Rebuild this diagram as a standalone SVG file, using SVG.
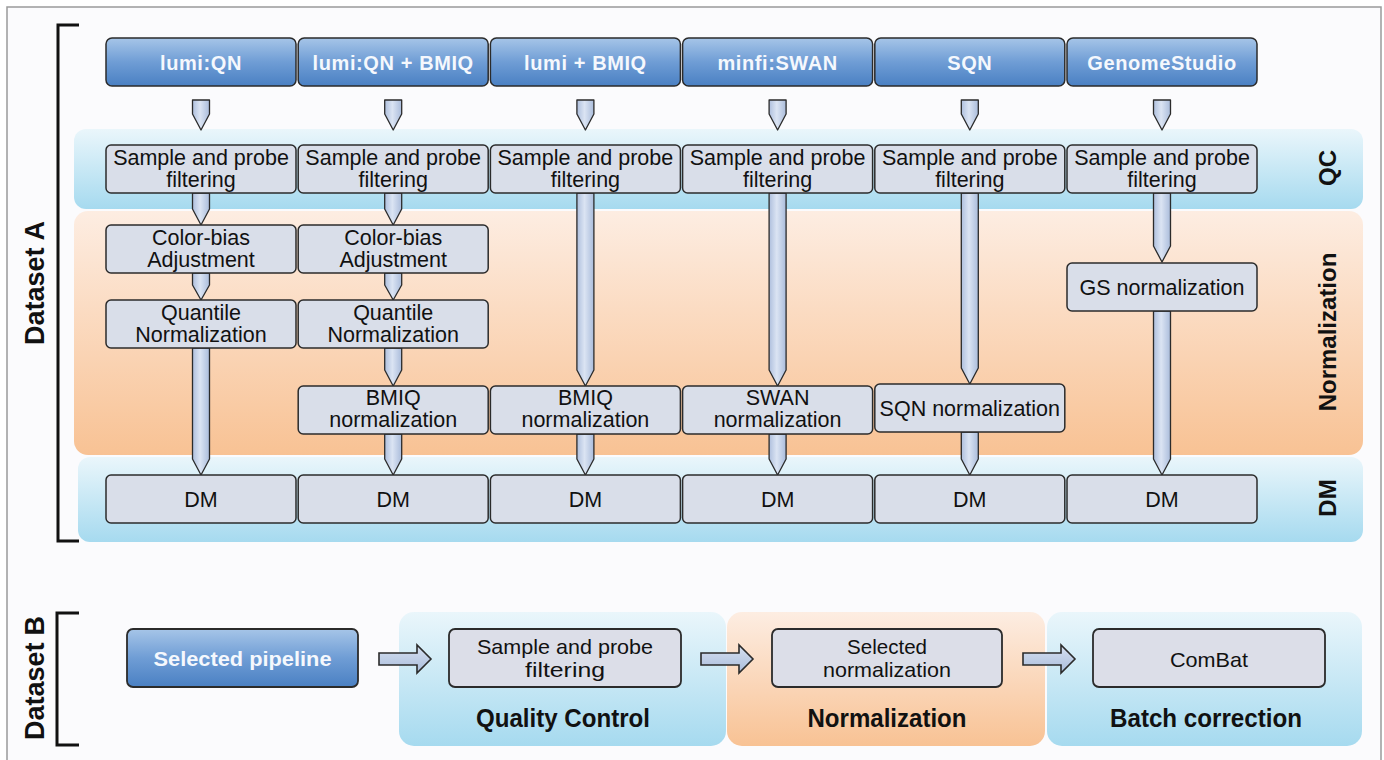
<svg xmlns="http://www.w3.org/2000/svg" width="1384" height="760" viewBox="0 0 1384 760">
  <defs>
    <linearGradient id="gBlue" x1="0" y1="0" x2="0" y2="1">
      <stop offset="0" stop-color="#a6c5e8"/>
      <stop offset="0.5" stop-color="#6f9dd5"/>
      <stop offset="1" stop-color="#4a80c3"/>
    </linearGradient>
    <linearGradient id="gCyan" x1="0" y1="0" x2="0" y2="1">
      <stop offset="0" stop-color="#eaf6fb"/>
      <stop offset="1" stop-color="#a6daef"/>
    </linearGradient>
    <linearGradient id="gPeach" x1="0" y1="0" x2="0" y2="1">
      <stop offset="0" stop-color="#fdede2"/>
      <stop offset="1" stop-color="#f8c294"/>
    </linearGradient>
    <linearGradient id="gShaft" x1="0" y1="0" x2="1" y2="0">
      <stop offset="0" stop-color="#aebfdd"/>
      <stop offset="0.45" stop-color="#dbe4f3"/>
      <stop offset="1" stop-color="#aabcdb"/>
    </linearGradient>
    <linearGradient id="gShaftH" x1="0" y1="0" x2="0" y2="1">
      <stop offset="0" stop-color="#d7e1f1"/>
      <stop offset="1" stop-color="#a9bcdb"/>
    </linearGradient>
    <style>
      .frame { fill: #fbfbfd; stroke: #9a9a9a; stroke-width: 1.5; }
      .band-c { fill: url(#gCyan); }
      .band-p { fill: url(#gPeach); }
      .head { fill: url(#gBlue); stroke: #2b2b2b; stroke-width: 1.5; }
      .box { fill: #d9dee9; stroke: #2b2b2b; stroke-width: 1.5; }
      .boxb { fill: #dcdee8; stroke: #2b2b2b; stroke-width: 1.8; }
      .arr { fill: url(#gShaft); stroke: #2b2b2b; stroke-width: 1.3; stroke-linejoin: round; }
      .arrh { fill: url(#gShaftH); stroke: #2b2b2b; stroke-width: 1.6; stroke-linejoin: miter; }
      .bracket { fill: none; stroke: #111; stroke-width: 3; }
      text { font-family: "Liberation Sans", Arial, Helvetica, sans-serif; text-anchor: middle; }
      .ht { fill: #f5f8fd; font-size: 20px; font-weight: bold; letter-spacing: 0.6px; }
      .t { fill: #111; font-size: 21.5px; }
      .tb { fill: #111; font-size: 21px; }
      .lab { fill: #111; font-size: 24px; font-weight: bold; }
      .ds { fill: #111; font-size: 27px; font-weight: bold; }
    </style>
  </defs>

  <!-- page frame -->
  <rect class="frame" x="7" y="7" width="1374" height="780"/>

  <!-- Dataset A: stage bands -->
  <g id="bands-a">
    <rect class="band-c" x="74" y="129" width="1289" height="80" rx="12"/>
    <rect class="band-p" x="74" y="211" width="1289" height="244" rx="14"/>
    <rect class="band-c" x="78" y="457" width="1285" height="85" rx="12"/>
  </g>

  <!-- Dataset labels and brackets -->
  <g id="dataset-a-label">
    <path class="bracket" d="M79 25 H58 V541 H79"/>
    <text class="ds" transform="translate(44 283) rotate(-90)">Dataset<tspan dx="7">A</tspan></text>
  </g>
  <g id="dataset-b-label">
    <path class="bracket" d="M79 613 H57 V745 H79"/>
    <text class="ds" transform="translate(44 678) rotate(-90)">Dataset<tspan dx="7">B</tspan></text>
  </g>

  <!-- stage labels -->
  <g id="stage-labels">
    <text class="lab" transform="translate(1336 168) rotate(-90)">QC</text>
    <text class="lab" transform="translate(1336 332) rotate(-90)">Normalization</text>
    <text class="lab" transform="translate(1336 498) rotate(-90)">DM</text>
  </g>

  <!-- Dataset B: stage panels -->
  <g id="bands-b">
    <rect class="band-c" x="399" y="612" width="327" height="134" rx="15"/>
    <rect class="band-p" x="727" y="612" width="318" height="134" rx="15"/>
    <rect class="band-c" x="1047" y="612" width="315" height="134" rx="15"/>
    <text class="lab" x="563" y="727" textLength="174" lengthAdjust="spacingAndGlyphs" style="font-size:25px">Quality Control</text>
    <text class="lab" x="887" y="727" textLength="159" lengthAdjust="spacingAndGlyphs" style="font-size:25px">Normalization</text>
    <text class="lab" x="1206" y="727" textLength="192" lengthAdjust="spacingAndGlyphs" style="font-size:25px">Batch correction</text>
  </g>

  <!-- connectors -->
  <g id="connectors">
    <!-- pipeline heads into QC -->
    <path class="arr" d="M192.5 100 H209.5 V114 L201 130 L192.5 114 Z"/>
    <path class="arr" d="M384.7 100 H401.7 V114 L393.2 130 L384.7 114 Z"/>
    <path class="arr" d="M576.9 100 H593.9 V114 L585.4 130 L576.9 114 Z"/>
    <path class="arr" d="M769.1 100 H786.1 V114 L777.6 130 L769.1 114 Z"/>
    <path class="arr" d="M961.3 100 H978.3 V114 L969.8 130 L961.3 114 Z"/>
    <path class="arr" d="M1153.5 100 H1170.5 V114 L1162 130 L1153.5 114 Z"/>

    <!-- lumi:QN -->
    <path class="arr" d="M192.5 193 H209.5 V209 L201 225 L192.5 209 Z"/>
    <path class="arr" d="M192.5 273 H209.5 V285 L201 300 L192.5 285 Z"/>
    <path class="arr" d="M192.5 348 H209.5 V459 L201 475 L192.5 459 Z"/>
    <!-- lumi:QN + BMIQ -->
    <path class="arr" d="M384.7 193 H401.7 V209 L393.2 225 L384.7 209 Z"/>
    <path class="arr" d="M384.7 273 H401.7 V285 L393.2 300 L384.7 285 Z"/>
    <path class="arr" d="M384.7 348 H401.7 V370 L393.2 386 L384.7 370 Z"/>
    <path class="arr" d="M384.7 434 H401.7 V459 L393.2 475 L384.7 459 Z"/>
    <!-- lumi + BMIQ -->
    <path class="arr" d="M576.9 193 H593.9 V370 L585.4 386 L576.9 370 Z"/>
    <path class="arr" d="M576.9 434 H593.9 V459 L585.4 475 L576.9 459 Z"/>
    <!-- minfi:SWAN -->
    <path class="arr" d="M769.1 193 H786.1 V370 L777.6 386 L769.1 370 Z"/>
    <path class="arr" d="M769.1 434 H786.1 V459 L777.6 475 L769.1 459 Z"/>
    <!-- SQN -->
    <path class="arr" d="M961.3 193 H978.3 V368 L969.8 384 L961.3 368 Z"/>
    <path class="arr" d="M961.3 432 H978.3 V459 L969.8 475 L961.3 459 Z"/>
    <!-- GenomeStudio -->
    <path class="arr" d="M1153.5 193 H1170.5 V246 L1162 262 L1153.5 246 Z"/>
    <path class="arr" d="M1153.5 311 H1170.5 V459 L1162 475 L1153.5 459 Z"/>

    <!-- Dataset B flow -->
    <path class="arrh" d="M379 653 H417 V645 L431 659 L417 673 V665 H379 Z"/>
    <path class="arrh" d="M701 653 H739 V645 L753 659 L739 673 V665 H701 Z"/>
    <path class="arrh" d="M1023 653 H1061 V645 L1075 659 L1061 673 V665 H1023 Z"/>
  </g>

  <!-- pipeline heads -->
  <g id="head-lumi-qn"><rect class="head" x="106" y="38" width="190" height="48" rx="6"/><text class="ht" x="201" y="70">lumi:QN</text></g>
  <g id="head-lumi-qn-bmiq"><rect class="head" x="298.2" y="38" width="190" height="48" rx="6"/><text class="ht" x="393.2" y="70">lumi:QN + BMIQ</text></g>
  <g id="head-lumi-bmiq"><rect class="head" x="490.4" y="38" width="190" height="48" rx="6"/><text class="ht" x="585.4" y="70">lumi + BMIQ</text></g>
  <g id="head-minfi-swan"><rect class="head" x="682.6" y="38" width="190" height="48" rx="6"/><text class="ht" x="777.6" y="70">minfi:SWAN</text></g>
  <g id="head-sqn"><rect class="head" x="874.8" y="38" width="190" height="48" rx="6"/><text class="ht" x="969.8" y="70">SQN</text></g>
  <g id="head-genomestudio"><rect class="head" x="1067" y="38" width="190" height="48" rx="6"/><text class="ht" x="1162" y="70">GenomeStudio</text></g>

  <!-- QC row -->
  <g id="qc-1"><rect class="box" x="106" y="145" width="190" height="48" rx="5"/><text class="t" x="201" y="165">Sample and probe</text><text class="t" x="201" y="187">filtering</text></g>
  <g id="qc-2"><rect class="box" x="298.2" y="145" width="190" height="48" rx="5"/><text class="t" x="393.2" y="165">Sample and probe</text><text class="t" x="393.2" y="187">filtering</text></g>
  <g id="qc-3"><rect class="box" x="490.4" y="145" width="190" height="48" rx="5"/><text class="t" x="585.4" y="165">Sample and probe</text><text class="t" x="585.4" y="187">filtering</text></g>
  <g id="qc-4"><rect class="box" x="682.6" y="145" width="190" height="48" rx="5"/><text class="t" x="777.6" y="165">Sample and probe</text><text class="t" x="777.6" y="187">filtering</text></g>
  <g id="qc-5"><rect class="box" x="874.8" y="145" width="190" height="48" rx="5"/><text class="t" x="969.8" y="165">Sample and probe</text><text class="t" x="969.8" y="187">filtering</text></g>
  <g id="qc-6"><rect class="box" x="1067" y="145" width="190" height="48" rx="5"/><text class="t" x="1162" y="165">Sample and probe</text><text class="t" x="1162" y="187">filtering</text></g>

  <!-- normalization steps -->
  <g id="colorbias-1"><rect class="box" x="106" y="225" width="190" height="48" rx="5"/><text class="t" x="201" y="245">Color-bias</text><text class="t" x="201" y="267">Adjustment</text></g>
  <g id="colorbias-2"><rect class="box" x="298.2" y="225" width="190" height="48" rx="5"/><text class="t" x="393.2" y="245">Color-bias</text><text class="t" x="393.2" y="267">Adjustment</text></g>
  <g id="quantile-1"><rect class="box" x="106" y="300" width="190" height="48" rx="5"/><text class="t" x="201" y="320">Quantile</text><text class="t" x="201" y="342">Normalization</text></g>
  <g id="quantile-2"><rect class="box" x="298.2" y="300" width="190" height="48" rx="5"/><text class="t" x="393.2" y="320">Quantile</text><text class="t" x="393.2" y="342">Normalization</text></g>
  <g id="bmiq-2"><rect class="box" x="298.2" y="386" width="190" height="48" rx="5"/><text class="t" x="393.2" y="405">BMIQ</text><text class="t" x="393.2" y="427">normalization</text></g>
  <g id="bmiq-3"><rect class="box" x="490.4" y="386" width="190" height="48" rx="5"/><text class="t" x="585.4" y="405">BMIQ</text><text class="t" x="585.4" y="427">normalization</text></g>
  <g id="swan-4"><rect class="box" x="682.6" y="386" width="190" height="48" rx="5"/><text class="t" x="777.6" y="405">SWAN</text><text class="t" x="777.6" y="427">normalization</text></g>
  <g id="sqn-5"><rect class="box" x="874.8" y="384" width="190" height="48" rx="5"/><text class="t" x="969.8" y="416">SQN normalization</text></g>
  <g id="gs-6"><rect class="box" x="1067" y="263" width="190" height="48" rx="5"/><text class="t" x="1162" y="295">GS normalization</text></g>

  <!-- DM row -->
  <g id="dm-1"><rect class="box" x="106" y="475" width="190" height="48" rx="5"/><text class="t" x="201" y="507">DM</text></g>
  <g id="dm-2"><rect class="box" x="298.2" y="475" width="190" height="48" rx="5"/><text class="t" x="393.2" y="507">DM</text></g>
  <g id="dm-3"><rect class="box" x="490.4" y="475" width="190" height="48" rx="5"/><text class="t" x="585.4" y="507">DM</text></g>
  <g id="dm-4"><rect class="box" x="682.6" y="475" width="190" height="48" rx="5"/><text class="t" x="777.6" y="507">DM</text></g>
  <g id="dm-5"><rect class="box" x="874.8" y="475" width="190" height="48" rx="5"/><text class="t" x="969.8" y="507">DM</text></g>
  <g id="dm-6"><rect class="box" x="1067" y="475" width="190" height="48" rx="5"/><text class="t" x="1162" y="507">DM</text></g>

  <!-- Dataset B nodes -->
  <g id="selected-pipeline"><rect class="head" x="127" y="629" width="231" height="58" rx="6" style="stroke-width:1.8"/><text class="ht" x="242.5" y="666" style="letter-spacing:0;font-size:21px" textLength="178" lengthAdjust="spacingAndGlyphs">Selected pipeline</text></g>
  <g id="b-filtering"><rect class="boxb" x="449" y="629" width="232" height="58" rx="6"/><text class="tb" x="565" y="654" textLength="176" lengthAdjust="spacingAndGlyphs">Sample and probe</text><text class="tb" x="565" y="677" textLength="80" lengthAdjust="spacingAndGlyphs">filtering</text></g>
  <g id="b-normalization"><rect class="boxb" x="772" y="629" width="230" height="58" rx="6"/><text class="tb" x="887" y="654" textLength="80" lengthAdjust="spacingAndGlyphs">Selected</text><text class="tb" x="887" y="677" textLength="128" lengthAdjust="spacingAndGlyphs">normalization</text></g>
  <g id="b-combat"><rect class="boxb" x="1093" y="629" width="232" height="58" rx="6"/><text class="tb" x="1209" y="667" textLength="78" lengthAdjust="spacingAndGlyphs">ComBat</text></g>
</svg>
